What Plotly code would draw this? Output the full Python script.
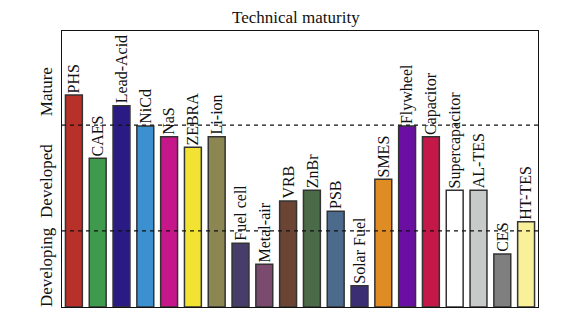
import plotly.graph_objects as go

# Storage technologies and their maturity score (0 = earliest stage, 100 = top of scale)
technologies = ["PHS", "CAES", "Lead-Acid", "NiCd", "NaS", "ZEBRA", "Li-ion",
                "Fuel cell", "Metal-air", "VRB", "ZnBr", "PSB", "Solar Fuel",
                "SMES", "Flywheel", "Capacitor", "Supercapacitor", "AL-TES",
                "CES", "HT-TES"]
maturity = [76.8, 53.9, 72.9, 65.6, 61.7, 57.9, 61.7,
            23.1, 15.5, 38.4, 42.3, 34.7, 7.7,
            46.3, 65.6, 61.7, 42.3, 42.3,
            19.2, 30.9]
bar_colors = ["#B8302A", "#3F9A4E", "#2A1A84", "#3D90D0", "#C5168A", "#F2E232",
              "#8C8652", "#463D6B", "#7A4B6E", "#6B4433", "#4B6B48", "#4C6B8C",
              "#3B2E72", "#E08C24", "#6B0FA3", "#C41848", "#FFFFFF", "#C8CACA",
              "#7F7F7F", "#F9F199"]

# Stage boundaries and stage names
stage_bounds = [27.6, 65.9]
stage_names = ["Developing", "Developed", "Mature"]
stage_label_pos = [14.3, 45.5, 78.0]

FONT = "Liberation Serif, Times New Roman, serif"

fig = go.Figure()
fig.add_trace(go.Bar(
    x=technologies, y=maturity,
    marker=dict(color=bar_colors, line=dict(color="#333333", width=1.5)),
    width=0.71,
    hoverinfo="x+y",
))

# Dashed boundaries between maturity stages
for b in stage_bounds:
    fig.add_shape(type="line", xref="paper", x0=0, x1=1, yref="y", y0=b, y1=b,
                  line=dict(color="#111111", width=1.3, dash="4px,4px"), layer="above")

# Vertical technology names above each bar
for name, val in zip(technologies, maturity):
    fig.add_annotation(x=name, y=val, xref="x", yref="y", text=name,
                       textangle=-90, showarrow=False, yanchor="bottom",
                       xanchor="center", yshift=0,
                       font=dict(family=FONT, size=16, color="#111111"))

# Stage names along the left side
for name, pos in zip(stage_names, stage_label_pos):
    fig.add_annotation(x=0, y=pos, xref="paper", yref="y", text=name,
                       textangle=-90, showarrow=False, xanchor="right",
                       yanchor="middle", xshift=-4,
                       font=dict(family=FONT, size=17, color="#111111"))

fig.add_annotation(x=0.5, y=1, xref="paper", yref="paper", text="Technical maturity",
                   showarrow=False, yanchor="bottom", yshift=2, xshift=-4,
                   font=dict(family=FONT, size=17, color="#111111"))

fig.update_layout(
    width=583, height=322,
    margin=dict(l=62, r=45, t=31, b=15),
    paper_bgcolor="white", plot_bgcolor="white",
    showlegend=False,
    xaxis=dict(showticklabels=False, ticks="", showgrid=False, showline=True,
               mirror=True, linecolor="#111111", linewidth=1.3,
               range=[-0.5, len(technologies) - 0.5]),
    yaxis=dict(showticklabels=False, ticks="", showgrid=False, zeroline=False,
               showline=True, mirror=True, linecolor="#111111", linewidth=1.3,
               range=[0, 100]),
)

fig.write_html("out.html")
